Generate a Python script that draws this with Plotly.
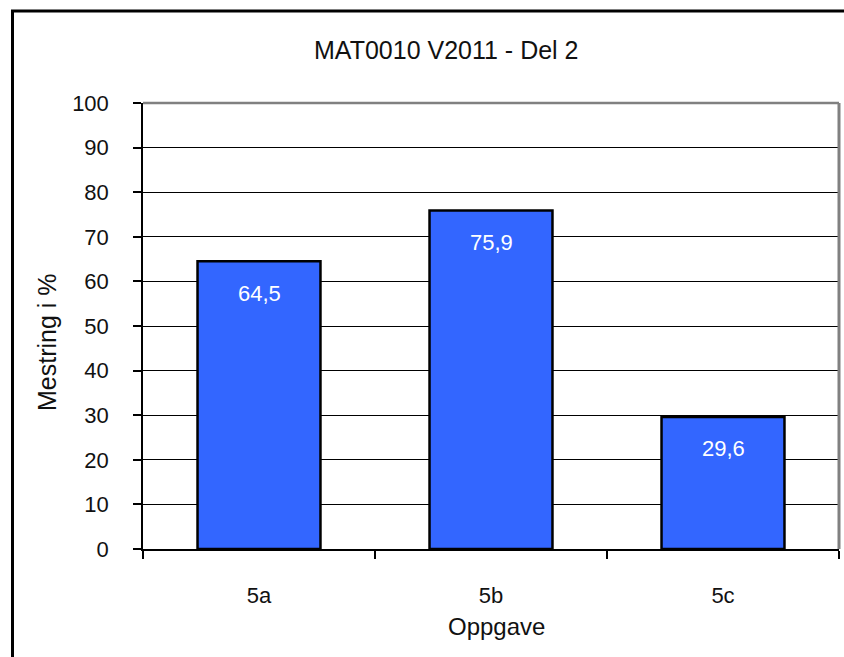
import plotly.graph_objects as go

categories = ["5a", "5b", "5c"]
values = [64.5, 75.9, 29.6]
y_ticks = [0, 10, 20, 30, 40, 50, 60, 70, 80, 90, 100]
title_text = "MAT0010 V2011 - Del 2"
x_title = "Oppgave"
y_title = "Mestring i %"

W, H = 844, 657
L, R, T, B = 143, 5, 103, 108
pw, ph = W - L - R, H - T - B
FONT = "Liberation Sans, Arial"

fig = go.Figure()
fig.add_trace(go.Bar(
    x=categories, y=values,
    marker=dict(color="#3366FF", line=dict(color="black", width=2.5)),
    hoverinfo="skip",
))

for c, v in zip(categories, values):
    fig.add_annotation(
        x=c, y=v, xref="x", yref="y",
        text=f"{v:.1f}".replace(".", ","),
        showarrow=False, yanchor="middle", yshift=-32,
        font=dict(family=FONT, size=22, color="white"),
    )

def px_x(p):
    return (p - L) / pw

def px_y(p):
    return (H - B - p) / ph

fig.add_annotation(x=px_x(496), y=px_y(626), xref="paper", yref="paper",
                   text=x_title, showarrow=False, xanchor="center", yanchor="middle",
                   font=dict(family=FONT, size=24, color="#111"))
fig.add_annotation(x=px_x(47), y=px_y(342), xref="paper", yref="paper",
                   text=y_title, showarrow=False, textangle=-90,
                   xanchor="center", yanchor="middle",
                   font=dict(family=FONT, size=25, color="#111"))
fig.add_annotation(x=px_x(446), y=px_y(50), xref="paper", yref="paper",
                   text=title_text, showarrow=False, xanchor="center", yanchor="middle",
                   font=dict(family=FONT, size=25, color="#111"))

fig.add_shape(type="line", xref="paper", yref="paper", x0=0, x1=1, y0=1, y1=1,
              line=dict(color="#808080", width=2.5), layer="above")
fig.add_shape(type="line", xref="paper", yref="paper", x0=1, x1=1, y0=0, y1=1,
              line=dict(color="#808080", width=3), layer="above")
fig.add_shape(type="rect", xref="paper", yref="paper",
              x0=px_x(12.5), x1=px_x(W + 40), y0=px_y(H + 40), y1=px_y(11),
              line=dict(color="black", width=3), layer="above")

fig.update_layout(
    width=W, height=H,
    margin=dict(l=L, r=R, t=T, b=B),
    paper_bgcolor="white", plot_bgcolor="white",
    showlegend=False, bargap=0.47,
    font=dict(family=FONT, size=22, color="#111"),
)
fig.update_xaxes(
    type="category", showgrid=False, showline=True, linecolor="black", linewidth=1.5,
    ticks="outside", tickson="boundaries", ticklen=8, tickcolor="black", tickwidth=1.5,
    ticklabelstandoff=26, tickfont=dict(family=FONT, size=22, color="#111"),
    zeroline=False,
)
fig.update_yaxes(
    range=[0, 100], tickvals=y_ticks, showgrid=True, gridcolor="black", gridwidth=1,
    showline=True, linecolor="black", linewidth=1.5,
    ticks="outside", ticklen=8, tickcolor="black", tickwidth=1.5,
    ticklabelstandoff=20, tickfont=dict(family=FONT, size=22, color="#111"),
    zeroline=False,
)

fig.write_html(
    "out.html",
    config={"displayModeBar": False},
    post_script="document.body.style.margin='0';document.body.style.overflow='hidden';",
)
